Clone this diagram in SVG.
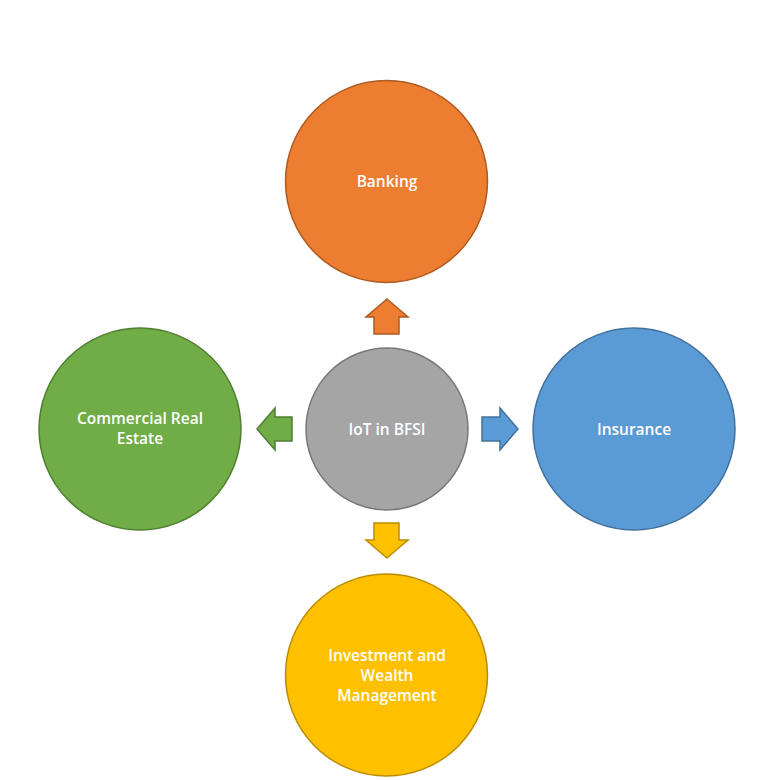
<svg xmlns="http://www.w3.org/2000/svg" width="770" height="780" viewBox="0 0 770 780">
<style>
.t{font-family:"Open Sans","Liberation Sans",sans-serif;font-size:15.5px;font-weight:600;fill:#fff;text-anchor:middle;dominant-baseline:central}
.sw{stroke-width:1.5}
</style>
<rect width="770" height="780" fill="#fff"/>
<g id="connectors" class="sw">
<path d="M387,299 L408,317 L399,317 L399,334 L374,334 L374,317 L366,317 Z" fill="#ED7D31" stroke="#AE5A21"/>
<path d="M387,558 L408,540 L399,540 L399,523 L374,523 L374,540 L366,540 Z" fill="#FFC000" stroke="#BC8C00"/>
<path d="M257,429 L275,408 L275,417 L292,417 L292,441 L275,441 L275,450 Z" fill="#70AD47" stroke="#507E32"/>
<path d="M518,429 L500,408 L500,417 L482,417 L482,441 L500,441 L500,450 Z" fill="#5B9BD5" stroke="#41719C"/>
</g>
<g id="banking"><circle cx="386.5" cy="181.5" r="101" fill="#ED7D31" stroke="#AE5A21" class="sw"/><text class="t" x="387" y="181">Banking</text></g>
<g id="center"><circle cx="387" cy="429" r="81" fill="#A5A5A5" stroke="#787878" class="sw"/><text class="t" x="387" y="429">IoT in BFSI</text></g>
<g id="cre"><circle cx="140" cy="429" r="101" fill="#70AD47" stroke="#507E32" class="sw"/><text class="t" x="140" y="418">Commercial Real</text><text class="t" x="140" y="438">Estate</text></g>
<g id="insurance"><circle cx="634" cy="429" r="101" fill="#5B9BD5" stroke="#41719C" class="sw"/><text class="t" x="634" y="429">Insurance</text></g>
<g id="investment"><circle cx="386.5" cy="675" r="101" fill="#FFC000" stroke="#BC8C00" class="sw"/><text class="t" x="387" y="655">Investment and</text><text class="t" x="387" y="675">Wealth</text><text class="t" x="387" y="695">Management</text></g>
</svg>
